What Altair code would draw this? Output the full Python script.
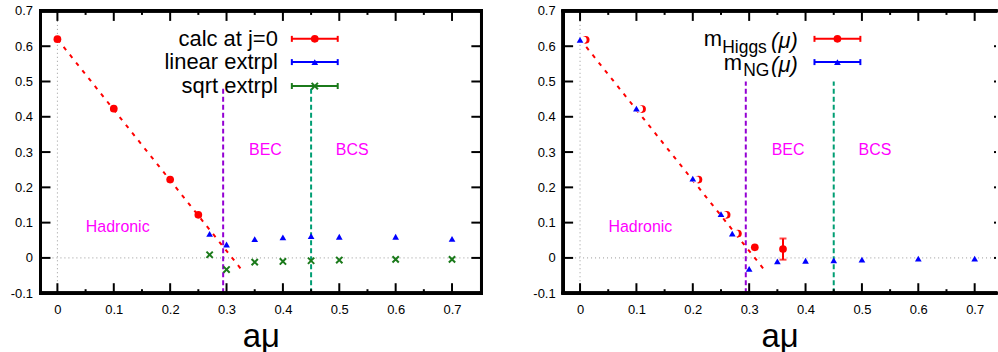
import altair as alt
import pandas as pd

# ---------------- data ----------------
# left panel
calc_x = [0.0, 0.1, 0.2, 0.25]
calc_y = [0.620, 0.423, 0.222, 0.122]
lin_x = [0.27, 0.30, 0.35, 0.40, 0.45, 0.50, 0.60, 0.70]
lin_y = [0.068, 0.038, 0.053, 0.058, 0.062, 0.060, 0.060, 0.054]
sqrt_x = [0.27, 0.30, 0.35, 0.40, 0.45, 0.50, 0.60, 0.70]
sqrt_y = [0.009, -0.033, -0.012, -0.010, -0.008, -0.006, -0.004, -0.004]
fit_x = [0.0, 0.325]
fit_y = [0.620, -0.030]

# right panel
higgs_x = [0.01, 0.11, 0.21, 0.26, 0.28, 0.31, 0.36]
higgs_y = [0.618, 0.422, 0.222, 0.122, 0.069, 0.030, 0.025]
higgs_err = [0.0, 0.0, 0.0, 0.0, 0.0, 0.0, 0.030]
higgs_partial = [True, True, True, True, True, False, False]
ng_x = [0.0, 0.1, 0.2, 0.25, 0.27, 0.30, 0.35, 0.40, 0.45, 0.50, 0.60, 0.70]
ng_y = [0.618, 0.423, 0.225, 0.124, 0.069, -0.031, -0.010, -0.008, -0.007, -0.005, -0.002, -0.002]

# phase boundaries
vline_x = [0.294, 0.45]
vline_colors = ["#9400d3", "#009e73"]
vline_top_left = 0.48
vline_top_right = 0.50

# region labels
region_labels = ["Hadronic", "BEC", "BCS"]
region_x = [0.107, 0.369, 0.523]
region_y = [0.088, 0.306, 0.306]

# axes
x_ticks = [0.0, 0.1, 0.2, 0.3, 0.4, 0.5, 0.6, 0.7]
x_minor = [0.05, 0.15, 0.25, 0.35, 0.45, 0.55, 0.65, 0.75]
y_ticks = [-0.1, 0.0, 0.1, 0.2, 0.3, 0.4, 0.5, 0.6, 0.7]
left_legend = ["calc at j=0", "linear extrpl", "sqrt extrpl"]

# ---------------- style ----------------
FONT = "Liberation Sans"
H = 283
W_FULL = 442
XMIN, XMAX = -0.03, 0.752
PX_PER_UNIT = W_FULL / (XMAX - XMIN)
W_RIGHT = 434
XMAX_RIGHT = XMIN + W_RIGHT / PX_PER_UNIT
RED, BLUE, GREEN, MAG = "#ff0000", "#0000ff", "#1b7a1b", "#ff00ff"
XSHAPE = "M-1,-1L1,1M-1,1L1,-1"
LABEL_EXPR = "datum.value < 0 ? '-' + format(-datum.value, '.1~f') : format(datum.value, '.1~f')"

XAX = alt.Axis(values=x_ticks, labelExpr=LABEL_EXPR, ticks=False, domain=False, grid=False,
               labelFont=FONT, labelFontSize=13, labelColor="black", labelPadding=10,
               labelFlush=False, labelOverlap=False,
               title="aμ", titleFont=FONT, titleFontSize=33, titleFontWeight="normal",
               titleColor="black", titlePadding=4)
YAX = alt.Axis(values=y_ticks, labelExpr=LABEL_EXPR, ticks=False, domain=False, grid=False,
               labelFont=FONT, labelFontSize=13, labelColor="black", labelPadding=8,
               labelFlush=False, labelOverlap=False, title=None)


def scales(xmax):
    xs = alt.Scale(domain=[XMIN, xmax], nice=False, zero=False)
    ys = alt.Scale(domain=[-0.1, 0.7], nice=False, zero=False)
    return xs, ys


def X(field, xs):
    return alt.X(field, scale=xs, axis=XAX)


def Y(field, ys):
    return alt.Y(field, scale=ys, axis=YAX)


def base_layers(xmax, width, vtop):
    xs, ys = scales(xmax)
    layers = []
    # zero lines (dotted grey)
    zdf = pd.DataFrame({"x": [XMIN, xmax], "y": [0.0, 0.0]})
    layers.append(alt.Chart(zdf).mark_line(color="#999999", strokeDash=[1, 3], strokeWidth=1).encode(
        x=X("x:Q", xs), y=Y("y:Q", ys)))
    vdf = pd.DataFrame({"x": [0.0], "y": [-0.1], "y2": [0.7]})
    layers.append(alt.Chart(vdf).mark_rule(color="#999999", strokeDash=[1, 3], strokeWidth=1).encode(
        x=X("x:Q", xs), y=Y("y:Q", ys), y2="y2:Q"))
    # phase boundaries
    bdf = pd.DataFrame({"x": vline_x, "c": vline_colors, "y": [-0.1] * 2, "y2": [vtop] * 2})
    layers.append(alt.Chart(bdf).mark_rule(strokeDash=[5, 3], strokeWidth=2).encode(
        x=X("x:Q", xs), y=Y("y:Q", ys), y2="y2:Q",
        color=alt.Color("c:N", scale=None)))
    # region labels
    rdf = pd.DataFrame({"t": region_labels, "x": region_x, "y": region_y})
    layers.append(alt.Chart(rdf).mark_text(font=FONT, fontSize=16, color=MAG, align="center",
                                           baseline="middle").encode(
        x=X("x:Q", xs), y=Y("y:Q", ys), text="t:N"))
    # fit line
    fdf = pd.DataFrame({"x": fit_x, "y": fit_y})
    layers.append(alt.Chart(fdf).mark_line(color=RED, strokeDash=[4, 6], strokeWidth=2).encode(
        x=X("x:Q", xs), y=Y("y:Q", ys)))
    return layers


def frame_layers(xmax, width, full_frame):
    xs, ys = scales(xmax)
    L, Lm = 10, 4
    layers = []
    mx = pd.DataFrame({"x": [v for v in x_ticks if v <= xmax]})
    mn = pd.DataFrame({"x": [v for v in x_minor if v < xmax - 0.005]})
    for df, ln in ((mx, L), (mn, Lm)):
        layers.append(alt.Chart(df).mark_rule(color="black", strokeWidth=2).encode(
            x=X("x:Q", xs), y=alt.value(H), y2=alt.value(H - ln)))
        layers.append(alt.Chart(df).mark_rule(color="black", strokeWidth=2).encode(
            x=X("x:Q", xs), y=alt.value(0), y2=alt.value(ln)))
    yt = pd.DataFrame({"y": y_ticks})
    layers.append(alt.Chart(yt).mark_rule(color="black", strokeWidth=2).encode(
        y=Y("y:Q", ys), x=alt.value(0), x2=alt.value(L)))
    right_edge = W_FULL
    layers.append(alt.Chart(yt).mark_rule(color="black", strokeWidth=2).encode(
        y=Y("y:Q", ys), x=alt.value(right_edge - L), x2=alt.value(min(right_edge, width))))
    fr = dict(color="black", strokeWidth=2.7, strokeCap="square")
    layers.append(alt.Chart(yt).mark_rule(**fr).encode(x=alt.value(0), x2=alt.value(width), y=alt.value(0)))
    layers.append(alt.Chart(yt).mark_rule(**fr).encode(x=alt.value(0), x2=alt.value(width), y=alt.value(H)))
    layers.append(alt.Chart(yt).mark_rule(**fr).encode(x=alt.value(0), y=alt.value(0), y2=alt.value(H)))
    if full_frame:
        layers.append(alt.Chart(yt).mark_rule(**fr).encode(x=alt.value(width), y=alt.value(0), y2=alt.value(H)))
    return layers


def legend_entry(y, color, shape, filled, size):
    d = pd.DataFrame({"k": [0]})
    out = [
        alt.Chart(d).mark_rule(color=color, strokeWidth=2).encode(
            x=alt.value(252), x2=alt.value(298), y=alt.value(y)),
        alt.Chart(d).mark_rule(color=color, strokeWidth=2).encode(
            x=alt.value(252), y=alt.value(y - 3), y2=alt.value(y + 3)),
        alt.Chart(d).mark_rule(color=color, strokeWidth=2).encode(
            x=alt.value(298), y=alt.value(y - 3), y2=alt.value(y + 3)),
    ]
    if filled:
        out.append(alt.Chart(d).mark_point(shape=shape, filled=True, color=color, size=size, opacity=1).encode(
            x=alt.value(275), y=alt.value(y)))
    else:
        out.append(alt.Chart(d).mark_point(shape=shape, filled=False, color=color, size=size,
                                           strokeWidth=2, opacity=1).encode(
            x=alt.value(275), y=alt.value(y)))
    return out


# ---------------- left panel ----------------
xsL, ysL = scales(XMAX)
left_layers = base_layers(XMAX, W_FULL, vline_top_left)
left_layers.append(alt.Chart(pd.DataFrame({"x": calc_x, "y": calc_y})).mark_point(
    shape="circle", filled=True, color=RED, size=60, opacity=1).encode(
    x=X("x:Q", xsL), y=Y("y:Q", ysL)))
left_layers.append(alt.Chart(pd.DataFrame({"x": lin_x, "y": lin_y})).mark_point(
    shape="triangle-up", filled=True, color=BLUE, size=45, opacity=1).encode(
    x=X("x:Q", xsL), y=Y("y:Q", ysL)))
left_layers.append(alt.Chart(pd.DataFrame({"x": sqrt_x, "y": sqrt_y})).mark_point(
    shape=XSHAPE, filled=False, color=GREEN, size=40, strokeWidth=2, opacity=1).encode(
    x=X("x:Q", xsL), y=Y("y:Q", ysL)))
left_rows = [28, 51.3, 75.3]
leg_specs = [(RED, "circle", True, 60), (BLUE, "triangle-up", True, 45), (GREEN, XSHAPE, False, 40)]
for lbl, yy, (c, s, f, sz) in zip(left_legend, left_rows, leg_specs):
    left_layers.append(alt.Chart(pd.DataFrame({"t": [lbl]})).mark_text(
        font=FONT, fontSize=22, color="black", align="right", baseline="middle").encode(
        x=alt.value(238), y=alt.value(yy), text="t:N"))
    left_layers += legend_entry(yy, c, s, f, sz)
left_layers += frame_layers(XMAX, W_FULL, True)
left = alt.layer(*left_layers).properties(width=W_FULL, height=H)

# ---------------- right panel ----------------
xsR, ysR = scales(XMAX_RIGHT)
right_layers = base_layers(XMAX_RIGHT, W_RIGHT, vline_top_right)
hdf = pd.DataFrame({"x": higgs_x, "y": higgs_y, "lo": [a - b for a, b in zip(higgs_y, higgs_err)],
                    "hi": [a + b for a, b in zip(higgs_y, higgs_err)], "p": higgs_partial})
edf = hdf[hdf["hi"] > hdf["y"]]
right_layers.append(alt.Chart(edf).mark_rule(color=RED, strokeWidth=2).encode(
    x=X("x:Q", xsR), y=Y("lo:Q", ysR), y2="hi:Q"))
for col in ("lo", "hi"):
    right_layers.append(alt.Chart(edf).mark_tick(color=RED, thickness=2, size=7, orient="horizontal").encode(
        x=X("x:Q", xsR), y=Y(f"{col}:Q", ysR)))
right_layers.append(alt.Chart(hdf).mark_point(
    shape="circle", filled=True, color=RED, size=60, opacity=1).encode(
    x=X("x:Q", xsR), y=Y("y:Q", ysR)))
right_layers.append(alt.Chart(hdf[hdf["p"]]).mark_point(
    shape="circle", filled=True, color="white", size=48, opacity=1, xOffset=-2.5).encode(
    x=X("x:Q", xsR), y=Y("y:Q", ysR)))
right_layers.append(alt.Chart(pd.DataFrame({"x": ng_x, "y": ng_y})).mark_point(
    shape="triangle-up", filled=True, color=BLUE, size=45, opacity=1).encode(
    x=X("x:Q", xsR), y=Y("y:Q", ysR)))
# legend with subscripts
rows_r = [(35.5, 42.0, "Higgs", 141, 159.5), (58.8, 65.0, "NG", 161, 180.5)]
for (base_main, base_sub, sub, xm, xs_) in rows_r:
    d = pd.DataFrame({"k": [0]})
    right_layers.append(alt.Chart(d).mark_text(font=FONT, fontSize=22, color="black", align="left",
                                               baseline="alphabetic").encode(
        x=alt.value(xm), y=alt.value(base_main), text=alt.value("m")))
    right_layers.append(alt.Chart(d).mark_text(font=FONT, fontSize=17.5, color="black", align="left",
                                               baseline="alphabetic").encode(
        x=alt.value(xs_), y=alt.value(base_sub), text=alt.value(sub)))
    right_layers.append(alt.Chart(d).mark_text(font=FONT, fontSize=22, color="black", align="left",
                                               baseline="alphabetic", fontStyle="italic").encode(
        x=alt.value(208.5), y=alt.value(base_main + 2), text=alt.value("(μ)")))
right_layers += legend_entry(28, RED, "circle", True, 60)
right_layers += legend_entry(51.3, BLUE, "triangle-up", True, 45)
right_layers += frame_layers(XMAX_RIGHT, W_RIGHT, False)
right = alt.layer(*right_layers).properties(width=W_RIGHT, height=H)

chart = alt.hconcat(left, right, spacing=82, bounds="flush").properties(
    padding={"left": 9.6, "top": 4.5, "right": 0, "bottom": 0},
    background="white",
).configure_view(stroke=None).configure_axis(labelOverlap=False, labelFlush=False).resolve_scale(
    x="independent", y="independent")

chart.save("out.html", embed_options={"renderer": "svg", "actions": False})
